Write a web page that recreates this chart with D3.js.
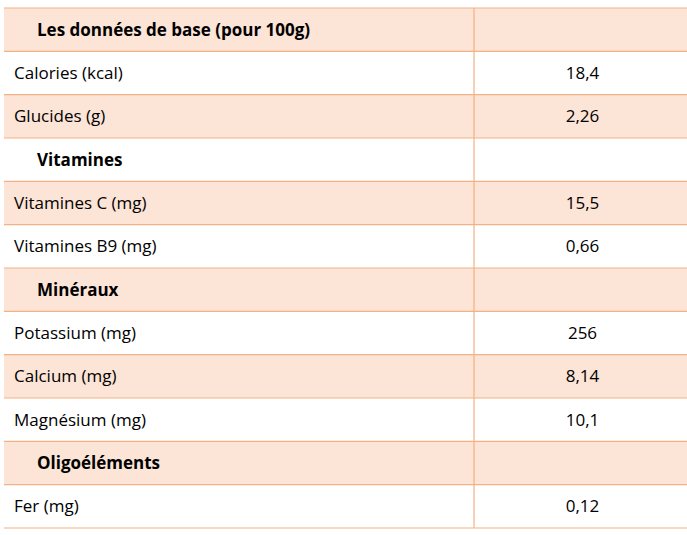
<!DOCTYPE html>
<html><head><meta charset="utf-8">
<script src="https://cdn.jsdelivr.net/npm/d3@7"></script>
<style>body{margin:0;background:#fff}</style>
</head><body>
<svg id="chart" width="687" height="535"></svg>
<script>
// rows of the table
const labels = ["Les données de base (pour 100g)", "Calories (kcal)", "Glucides (g)", "Vitamines",
  "Vitamines C (mg)", "Vitamines B9 (mg)", "Minéraux", "Potassium (mg)", "Calcium (mg)",
  "Magnésium (mg)", "Oligoéléments", "Fer (mg)"];
const values = ["", "18,4", "2,26", "", "15,5", "0,66", "", "256", "8,14", "10,1", "", "0,12"];
const headers = [0, 3, 6, 10];

const svg = d3.select("#chart");
const x0 = 4, x1 = 687, split = 474, y0 = 8, y1 = 528;
const y = d3.scaleBand().domain(d3.range(labels.length)).range([y0, y1]);
const fill = "#FCE4D6", line = "#F4B183";

const row = svg.selectAll("g.row").data(labels).join("g").attr("class", "row")
  .attr("transform", (d, i) => `translate(0,${y(i)})`);

row.append("rect").attr("x", x0).attr("width", x1 - x0).attr("height", y.bandwidth())
  .attr("fill", (d, i) => i % 2 === 0 ? fill : "#fff");

row.append("text")
  .attr("x", (d, i) => headers.includes(i) ? 37 : 14)
  .attr("y", y.bandwidth() / 2 + 6)
  .attr("font-family", "Open Sans, sans-serif").attr("font-size", 17)
  .attr("font-weight", (d, i) => headers.includes(i) ? "bold" : "normal")
  .attr("fill", "#000")
  .text(d => d);

row.append("text")
  .attr("x", (split + x1) / 2 + 2)
  .attr("y", y.bandwidth() / 2 + 6)
  .attr("text-anchor", "middle")
  .attr("font-family", "Open Sans, sans-serif").attr("font-size", 17)
  .attr("fill", "#000")
  .text((d, i) => values[i]);

svg.selectAll("line.h").data(d3.range(labels.length + 1)).join("line").attr("class", "h")
  .attr("x1", x0).attr("x2", x1)
  .attr("y1", i => i < labels.length ? y(i) : y1).attr("y2", i => i < labels.length ? y(i) : y1)
  .attr("stroke", line).attr("stroke-width", 1.2);

svg.append("line").attr("x1", split).attr("x2", split).attr("y1", y0).attr("y2", y1)
  .attr("stroke", line).attr("stroke-width", 1.2);
</script>
</body></html>
